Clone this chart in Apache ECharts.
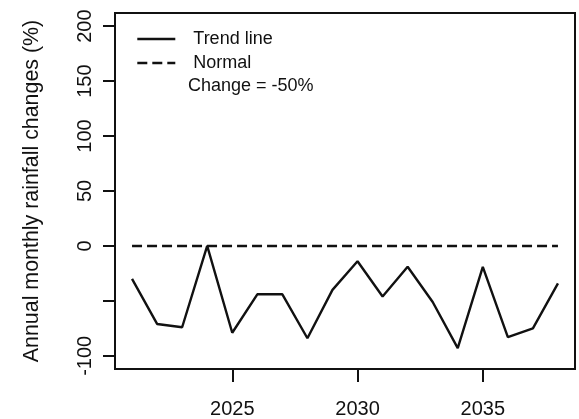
<!DOCTYPE html>
<html>
<head>
<meta charset="utf-8">
<script src="https://cdn.jsdelivr.net/npm/echarts@6/dist/echarts.min.js"></script>
<style>
  html, body { margin: 0; padding: 0; background: #fff; }
  #chart { width: 579px; height: 419px; }
</style>
</head>
<body>
<div id="chart"></div>
<script>
// Years of the projection
const years = [2021, 2022, 2023, 2024, 2025, 2026, 2027, 2028, 2029,
               2030, 2031, 2032, 2033, 2034, 2035, 2036, 2037, 2038];
// Annual monthly rainfall change (%) per year
const trendValues = [-30, -71, -74, 0, -79, -44, -44, -84, -40,
                     -14, -46, -19, -51, -93, -19, -83, -75, -34];
// Reference (normal) level
const normalValues = [0, 0, 0, 0, 0, 0, 0, 0, 0,
                      0, 0, 0, 0, 0, 0, 0, 0, 0];
// Tick positions and labels
const xTicks = [2025, 2030, 2035];
const yTicks = [-100, -50, 0, 50, 100, 150, 200];
const yTickLabels = [-100, 0, 50, 100, 150, 200];
const legendNames = ['Trend line', 'Normal'];
const noteText = 'Change = -50%';

const ink = '#111';
const font = 'Liberation Sans, Arial, Helvetica, sans-serif';

const chart = echarts.init(document.getElementById('chart'), null, { renderer: 'canvas' });

chart.setOption({
  backgroundColor: '#fff',
  animation: false,
  grid: {
    left: 115, right: 4, top: 13, bottom: 50,
    show: true, borderColor: ink, borderWidth: 2, backgroundColor: 'transparent'
  },
  legend: {
    orient: 'vertical',
    left: 131, top: 25,
    itemWidth: 38, itemHeight: 14, itemGap: 6,
    selectedMode: false,
    data: legendNames,
    itemStyle: { opacity: 0 },
    lineStyle: { width: 2.6 },
    textStyle: { fontFamily: font, fontSize: 18, color: ink, padding: [0, 0, 0, 13] }
  },
  graphic: [{
    type: 'text', left: 188, top: 77,
    style: { text: noteText, font: '18px ' + font, fill: ink }
  }],
  xAxis: {
    type: 'value',
    min: 2020.32, max: 2038.68,
    axisLine: { show: false, onZero: false },
    splitLine: { show: false },
    axisTick: { show: true, length: 13, customValues: xTicks, lineStyle: { color: ink, width: 2 } },
    axisLabel: {
      customValues: xTicks, margin: 30, fontFamily: font, fontSize: 20, color: ink,
      formatter: v => String(v)
    }
  },
  yAxis: {
    type: 'value',
    min: -112, max: 212,
    name: 'Annual monthly rainfall changes (%)',
    nameLocation: 'middle', nameGap: 72, nameRotate: 90,
    nameTextStyle: { fontFamily: font, fontSize: 21.4, color: ink },
    axisLine: { show: false, onZero: false },
    splitLine: { show: false },
    axisTick: { show: true, length: 12, customValues: yTicks, lineStyle: { color: ink, width: 2 } },
    axisLabel: {
      customValues: yTickLabels, rotate: 90, margin: 20, fontFamily: font, fontSize: 20, color: ink,
      formatter: v => String(v)
    }
  },
  series: [
    {
      name: legendNames[0], type: 'line', symbol: 'none',
      data: years.map((y, i) => [y, trendValues[i]]),
      lineStyle: { color: ink, width: 2.4 }, itemStyle: { color: ink }
    },
    {
      name: legendNames[1], type: 'line', symbol: 'none',
      data: years.map((y, i) => [y, normalValues[i]]),
      lineStyle: { color: ink, width: 2.4, type: [10, 5] }, itemStyle: { color: ink }
    }
  ]
});
</script>
</body>
</html>
